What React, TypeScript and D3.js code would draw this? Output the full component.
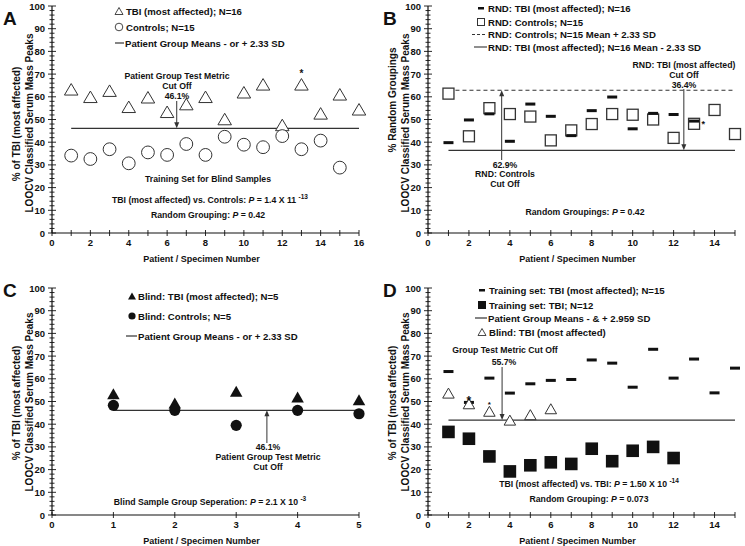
import React from 'react';
import * as d3 from 'd3';

// Panel A: training set
const tbiA = [63.3, 60, 62.7, 55.6, 59.8, 53.4, 56.8, 60, 50.2, 62, 65.5, 47.6, 65.5, 52.7, 61.1, 54.5];
const controlsA = [34.1, 32.6, 36.9, 30.7, 35.5, 34.4, 39.2, 34.4, 42.4, 38.9, 37.8, 42.7, 36.9, 40.7, 28.8];
const cutoffA = 46.1;

// Panel B: random groupings
const rndTbiB = [39.8, 49.8, 52.5, 40.4, 56.8, 51.4, 42.9, 53.9, 59.9, 45.9, 52.7, 52.2, 49.3];
const rndControlsB = [61.4, 42.6, 55, 52.4, 51.3, 40.8, 45.2, 48, 52.4, 52.1, 50, 41.9, 48.1, 54.2, 43.6];
const rndControlsCut = 62.9;
const rndTbiCut = 36.4;

// Panel C: blind samples
const blindTbiC = [53.4, 49.3, 54.5, 52, 50.8];
const blindControlsC = [48.3, 46.1, 39.5, 46.1, 44.6];
const cutoffC = 46.1;

// Panel D: TBI (most affected) vs TBI
const trainMostD = [63.2, 49.6, 60.3, 53.7, 57.8, 59.3, 59.7, 68.3, 66.9, 56.3, 73, 60.3, 68.7, 53.8, 64.7];
const trainTbiD = [36.6, 33.6, 25.8, 19.2, 21.9, 23.2, 22.5, 29.2, 23.7, 28.3, 30, 25.1];
const blindTbiD = [53.7, 49, 45.7, 41.8, 44.2, 46.8];
const cutoffD = 41.8;

const FONT = '"Liberation Sans", Arial, Helvetica, sans-serif';
const INK = '#111';
const GREY = '#333';
const FS = 9.5;   // tick labels
const LFS = 9.6;  // legends
const AFS = 8.7;  // annotations

const tri = (w: number, h: number) => `M0,${-h / 2}L${w / 2},${h / 2}L${-w / 2},${h / 2}Z`;

function Axes({ x, y, xMax, xLabels, titles, titleY, letter, lx, ly }: any) {
  const x0 = x(0), y0 = y(0);
  const yt = d3.range(0, 101, 2);
  const xt = d3.range(0, xMax + 1, 1);
  return (
    <g fontFamily={FONT} fontWeight="bold" fill={INK}>
      <line x1={x0} x2={x0} y1={y0} y2={y(100)} stroke={INK} strokeWidth={1.2} />
      <line x1={x0} x2={x(xMax)} y1={y0} y2={y0} stroke={INK} strokeWidth={1.2} />
      {yt.map(v => {
        const big = v % 10 === 0;
        return (
          <g key={'y' + v}>
            <line x1={x0 - (big ? 4 : 2.5)} x2={x0 + (big ? 4 : 2.5)} y1={y(v)} y2={y(v)} stroke={INK} strokeWidth={0.9} />
            {big && <text x={x0 - 7} y={y(v) + 3.5} textAnchor="end" fontSize={FS}>{v}</text>}
          </g>
        );
      })}
      {xt.map(v => (
        <line key={'x' + v} x1={x(v)} x2={x(v)} y1={y0 - 3} y2={y0 + 3} stroke={INK} strokeWidth={0.9} />
      ))}
      {xLabels.map((v: number) => (
        <text key={'xl' + v} x={x(v)} y={y0 + 13} textAnchor="middle" fontSize={FS}>{v}</text>
      ))}
      <text x={(x0 + x(xMax)) / 2 - 4} y={y0 + 28.5} textAnchor="middle" fontSize={9}>Patient / Specimen Number</text>
      {titles.map((t: string, i: number) => (
        <text key={t} transform={`translate(${x0 - 32 + i * 13},${titleY[i]}) rotate(-90)`} textAnchor="middle" fontSize={10}>{t}</text>
      ))}
      <text x={lx} y={ly} fontSize={19}>{letter}</text>
    </g>
  );
}

function Arrow({ x, y1, y2 }: any) {
  const dir = y2 > y1 ? 1 : -1;
  return (
    <g>
      <line x1={x} x2={x} y1={y1} y2={y2 - dir * 4} stroke={GREY} strokeWidth={1} />
      <path d={`M${x - 2.5},${y2 - dir * 6}L${x + 2.5},${y2 - dir * 6}L${x},${y2}Z`} fill={GREY} />
    </g>
  );
}

function Lines({ x, y, lines }: any) {
  return (
    <g fontFamily={FONT} fontWeight="bold" fill={INK} fontSize={AFS} textAnchor="middle">
      {lines.map((l: string, i: number) => (
        <text key={i} x={x} y={y + i * 9.8}>{l}</text>
      ))}
    </g>
  );
}

function PText({ x, y, pre, post, sup }: any) {
  return (
    <text x={x} y={y} fontFamily={FONT} fontWeight="bold" fontSize={AFS} textAnchor="middle" fill={INK}>
      {pre}<tspan fontStyle="italic">P</tspan>{post}
      {sup && <tspan dy={-4} fontSize={6.5}>{sup}</tspan>}
    </text>
  );
}

const leg = { fontFamily: FONT, fontWeight: 'bold' as const, fontSize: LFS, fill: INK };

function PanelA() {
  const x = d3.scaleLinear().domain([0, 16]).range([52, 359]);
  const y = d3.scaleLinear().domain([0, 100]).range([233, 6]);
  return (
    <g>
      <Axes x={x} y={y} xMax={16} xLabels={d3.range(0, 17, 2)}
        titles={['% of TBI (most affected)', 'LOOCV Classified Serum Mass Peaks']} titleY={[124, 123]}
        letter="A" lx={3} ly={25} />
      <line x1={x(1)} x2={x(16)} y1={y(cutoffA)} y2={y(cutoffA)} stroke={GREY} strokeWidth={1.1} />
      {tbiA.map((v, i) => (
        <path key={'t' + i} d={tri(13.5, 11.5)} transform={`translate(${x(i + 1)},${y(v)})`} fill="#fff" stroke={GREY} strokeWidth={1} />
      ))}
      {controlsA.map((v, i) => (
        <circle key={'c' + i} cx={x(i + 1)} cy={y(v)} r={6.4} fill="#fff" stroke={GREY} strokeWidth={1} />
      ))}
      <text x={x(13)} y={y(70.5) + 4} textAnchor="middle" fontFamily={FONT} fontWeight="bold" fontSize={10} fill={INK}>*</text>
      <Arrow x={x(6.5)} y1={101} y2={y(cutoffA)} />
      <Lines x={177} y={79} lines={['Patient Group Test Metric', 'Cut Off', '46.1%']} />
      <Lines x={208} y={181.5} lines={['Training Set for Blind Samples']} />
      <PText x={210} y={202.5} pre="TBI (most affected) vs. Controls: " post=" = 1.4 X 11 " sup="-13" />
      <PText x={208} y={217.5} pre="Random Grouping: " post=" = 0.42" />
      <path d={tri(8, 7)} transform="translate(119,11)" fill="#fff" stroke={GREY} strokeWidth={0.9} />
      <text x={126} y={14.5} {...leg}>TBI (most affected); N=16</text>
      <circle cx={119} cy={27} r={3.8} fill="#fff" stroke={GREY} strokeWidth={0.9} />
      <text x={126} y={30.5} {...leg}>Controls; N=15</text>
      <line x1={115} x2={124} y1={43} y2={43} stroke={GREY} strokeWidth={1.2} />
      <text x={125} y={46.5} {...leg}>Patient Group Means - or +  2.33 SD</text>
    </g>
  );
}

function PanelB() {
  const x = d3.scaleLinear().domain([0, 15]).range([428, 735]);
  const y = d3.scaleLinear().domain([0, 100]).range([233, 6]);
  return (
    <g>
      <Axes x={x} y={y} xMax={15} xLabels={d3.range(0, 15, 2)}
        titles={['% Random Groupings', 'LOOCV Classified Serum Mass Peaks']} titleY={[100, 123]}
        letter="B" lx={383} ly={25} />
      <line x1={x(1)} x2={x(15)} y1={y(rndControlsCut)} y2={y(rndControlsCut)} stroke={GREY} strokeWidth={1.1} strokeDasharray="4,3" />
      <line x1={x(1)} x2={x(15)} y1={y(rndTbiCut)} y2={y(rndTbiCut)} stroke={GREY} strokeWidth={1.1} />
      {rndControlsB.map((v, i) => (
        <rect key={'s' + i} x={x(i + 1) - 5.5} y={y(v) - 5.5} width={11} height={11} fill="#fff" stroke={GREY} strokeWidth={1.3} />
      ))}
      {rndTbiB.map((v, i) => (
        <rect key={'d' + i} x={x(i + 1) - 5} y={y(v) - 1.5} width={10} height={3} fill={INK} />
      ))}
      <text x={x(13.45)} y={y(49) + 5} textAnchor="middle" fontFamily={FONT} fontWeight="bold" fontSize={9} fill={INK}>*</text>
      <Arrow x={x(3.6)} y1={160} y2={y(rndControlsCut)} />
      <Arrow x={x(12.5)} y1={89} y2={y(rndTbiCut)} />
      <Lines x={505} y={167.5} lines={['62.9%', 'RND: Controls', 'Cut Off']} />
      <Lines x={684} y={68} lines={['RND: TBI (most affected)', 'Cut Off', '36.4%']} />
      <PText x={585} y={215} pre="Random Groupings: " post=" = 0.42" />
      <rect x={478} y={7} width={6} height={2.5} fill={INK} />
      <text x={488} y={11.5} {...leg}>RND: TBI (most affected); N=16</text>
      <rect x={477.5} y={18.5} width={7} height={7} fill="#fff" stroke={GREY} strokeWidth={1} />
      <text x={488} y={25.5} {...leg}>RND: Controls; N=15</text>
      <line x1={472} x2={487} y1={34.5} y2={34.5} stroke={GREY} strokeWidth={1.1} strokeDasharray="3,2" />
      <text x={488} y={38} {...leg}>RND: Controls; N=15 Mean + 2.33 SD</text>
      <line x1={474} x2={487} y1={47} y2={47} stroke={GREY} strokeWidth={1.1} />
      <text x={488} y={50.5} {...leg}>RND: TBI (most affected); N=16 Mean - 2.33 SD</text>
    </g>
  );
}

function PanelC() {
  const x = d3.scaleLinear().domain([0, 5]).range([52, 359]);
  const y = d3.scaleLinear().domain([0, 100]).range([515, 288]);
  return (
    <g>
      <Axes x={x} y={y} xMax={5} xLabels={d3.range(0, 6, 1)}
        titles={['% of TBI (most affected)', 'LOOCV Classified Serum Mass Peaks']} titleY={[403, 402]}
        letter="C" lx={3} ly={297} />
      <line x1={x(1)} x2={x(5)} y1={y(cutoffC)} y2={y(cutoffC)} stroke={GREY} strokeWidth={1.1} />
      {blindTbiC.map((v, i) => (
        <path key={'t' + i} d={tri(12.5, 11)} transform={`translate(${x(i + 1)},${y(v)})`} fill={INK} />
      ))}
      {blindControlsC.map((v, i) => (
        <circle key={'c' + i} cx={x(i + 1)} cy={y(v)} r={5.6} fill={INK} />
      ))}
      <Arrow x={x(3.5)} y1={443} y2={y(cutoffC)} />
      <Lines x={268} y={450} lines={['46.1%', 'Patient Group Test Metric', 'Cut Off']} />
      <PText x={210} y={505} pre="Blind Sample Group Seperation: " post=" = 2.1 X 10 " sup="-3" />
      <path d={tri(8, 7)} transform="translate(132,296)" fill={INK} />
      <text x={138} y={299.5} {...leg}>Blind: TBI (most affected); N=5</text>
      <circle cx={132} cy={316} r={3.6} fill={INK} />
      <text x={138} y={319.5} {...leg}>Blind: Controls; N=5</text>
      <line x1={126} x2={137} y1={336} y2={336} stroke={GREY} strokeWidth={1.2} />
      <text x={138} y={339.5} {...leg}>Patient Group Means - or +  2.33 SD</text>
    </g>
  );
}

function PanelD() {
  const x = d3.scaleLinear().domain([0, 15]).range([428, 735]);
  const y = d3.scaleLinear().domain([0, 100]).range([515, 288]);
  return (
    <g>
      <Axes x={x} y={y} xMax={15} xLabels={d3.range(0, 15, 2)}
        titles={['% of TBI (most affected)', 'LOOCV Classified Serum Mass Peaks']} titleY={[403, 402]}
        letter="D" lx={383} ly={297} />
      <line x1={x(1)} x2={x(15)} y1={y(cutoffD)} y2={y(cutoffD)} stroke={GREY} strokeWidth={1.1} />
      {trainTbiD.map((v, i) => (
        <rect key={'s' + i} x={x(i + 1) - 6.3} y={y(v) - 6.3} width={12.6} height={12.6} fill={INK} />
      ))}
      {trainMostD.map((v, i) => (
        <rect key={'d' + i} x={x(i + 1) - 5} y={y(v) - 1.5} width={10} height={3} fill={INK} />
      ))}
      {blindTbiD.map((v, i) => (
        <path key={'t' + i} d={tri(11.5, 10)} transform={`translate(${x(i + 1)},${y(v)})`} fill="#fff" stroke={GREY} strokeWidth={1} />
      ))}
      <text x={x(2)} y={y(50.5) + 5} textAnchor="middle" fontFamily={FONT} fontWeight="bold" fontSize={12} fill={INK}>*</text>
      <text x={x(3)} y={y(49.3) + 4} textAnchor="middle" fontFamily={FONT} fontWeight="bold" fontSize={8} fill={INK}>*</text>
      <Arrow x={x(3.62)} y1={367} y2={y(cutoffD)} />
      <Lines x={505} y={353} lines={['Group Test Metric Cut Off']} />
      <Lines x={504} y={364.5} lines={['55.7%']} />
      <PText x={589} y={486.5} pre="TBI (most affected) vs. TBI: " post=" = 1.50 X 10 " sup="-14" />
      <PText x={589} y={502} pre="Random Grouping: " post=" = 0.073" />
      <rect x={479} y={289} width={6} height={2.5} fill={INK} />
      <text x={489} y={293.5} {...leg}>Training set: TBI (most affected); N=15</text>
      <rect x={478} y={301} width={8} height={8} fill={INK} />
      <text x={489} y={308.5} {...leg}>Training set: TBI; N=12</text>
      <line x1={475} x2={487} y1={318} y2={318} stroke={GREY} strokeWidth={1.2} />
      <text x={488} y={321.5} {...leg}>Patient Group Means - &amp; + 2.959 SD</text>
      <path d={tri(8, 7)} transform="translate(482,332)" fill="#fff" stroke={GREY} strokeWidth={0.9} />
      <text x={489} y={335.5} {...leg}>Blind: TBI (most affected)</text>
    </g>
  );
}

export default function App() {
  return (
    <svg width={745} height={546} style={{ position: 'absolute', left: 0, top: 0, background: '#fff' }}>
      <PanelA />
      <PanelB />
      <PanelC />
      <PanelD />
    </svg>
  );
}
